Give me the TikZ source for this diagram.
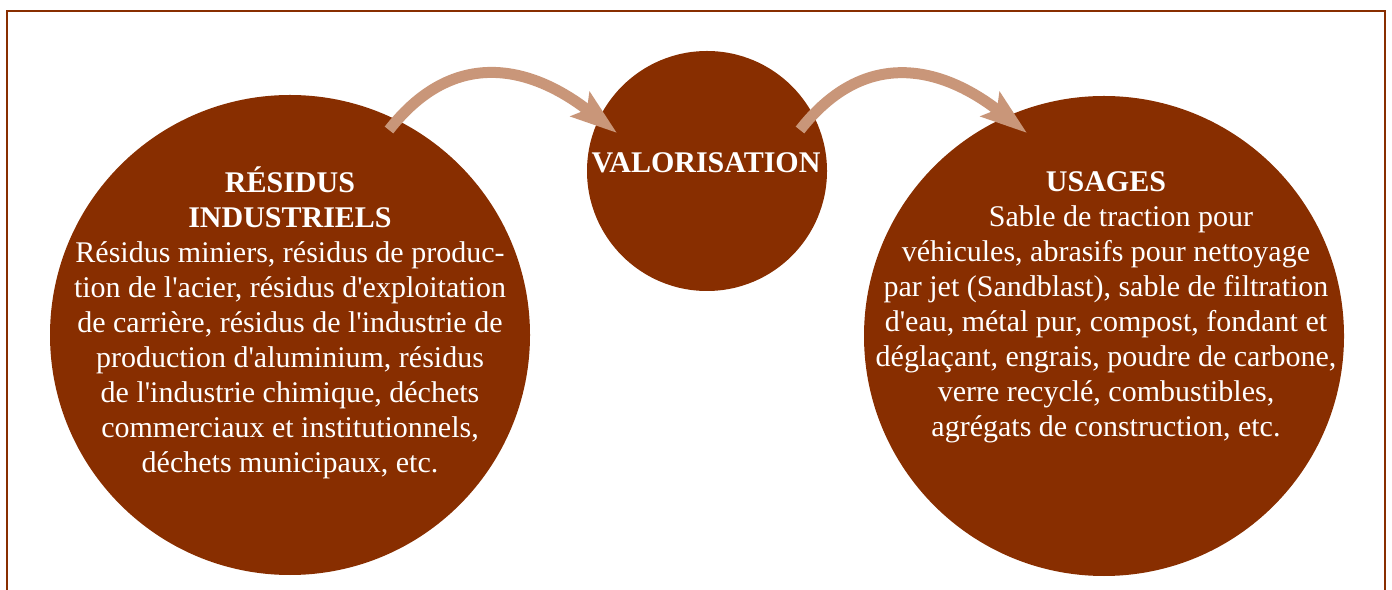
\documentclass[tikz,border=0pt]{standalone}
\usepackage{fontspec}
\setmainfont{Liberation Serif}[Ligatures=TeXOff]
\usetikzlibrary{arrows.meta}
\definecolor{rouille}{RGB}{136,46,0}
\definecolor{saumon}{RGB}{201,150,121}
\begin{document}
\begin{tikzpicture}[x=0.5pt, y=0.5pt,
    disque/.style={circle, fill=rouille, inner sep=0pt},
    texte/.style={text=white, align=center, inner sep=0pt, font=\fontsize{15}{17.5}\selectfont},
    fleche/.style={draw=saumon, line width=5.5pt, -{Stealth[length=23pt, width=15pt, inset=4pt]}, looseness=1.2}]
    \useasboundingbox (0,0) rectangle (1392,589);
    \draw[rouille, line width=1pt] (7,-10) rectangle (1385,578);
    % les trois disques
    \node[disque, minimum size=240pt] (residus) at (290,254) {};
    \node[disque, minimum size=120pt] (valo) at (707,418) {};
    \node[disque, minimum size=240pt] (usages) at (1104,253) {};
    % textes
    \node[texte] (residustxt) at (290,266) {\textbf{RÉSIDUS}\\\textbf{INDUSTRIELS}\\
        Résidus miniers, résidus de produc-\\tion de l'acier, résidus d'exploitation\\
        de carrière, résidus de l'industrie de\\production d'aluminium, résidus\\
        de l'industrie chimique, déchets\\commerciaux et institutionnels,\\
        déchets municipaux, etc.};
    \node[texte] (valotxt) at (706,426) {\textbf{VALORISATION}};
    \node[texte] (usagestxt) at (1106,282) {\textbf{USAGES}\\\hspace*{15pt}Sable de traction pour\\
        véhicules, abrasifs pour nettoyage\\par jet (Sandblast), sable de filtration\\
        d'eau, métal pur, compost, fondant et\\déglaçant, engrais, poudre de carbone,\\
        verre recyclé, combustibles,\\agrégats de construction, etc.};
    % fleches
    \coordinate (depart1) at (389,459);
    \coordinate (arrivee1) at (617,456);
    \coordinate (depart2) at (800,459);
    \coordinate (arrivee2) at (1027,456);
    \draw[fleche] (depart1) to[out=52, in=142] (arrivee1);
    \draw[fleche] (depart2) to[out=52, in=142] (arrivee2);
\end{tikzpicture}
\end{document}
